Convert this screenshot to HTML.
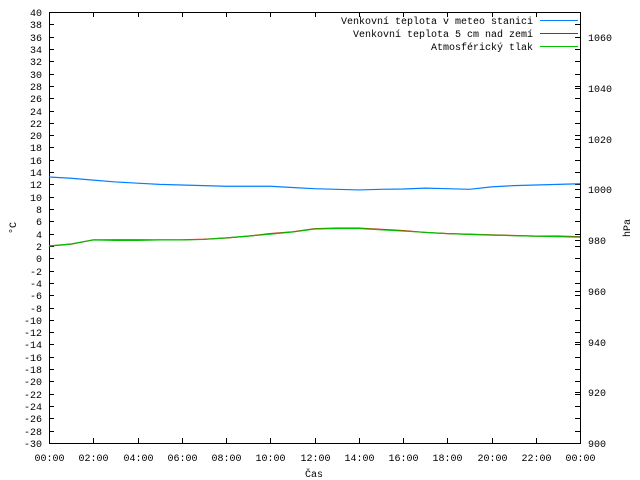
<!DOCTYPE html>
<html><head><meta charset="utf-8"><style>
html,body{margin:0;padding:0;background:#fff}
svg{display:block;font-family:"Liberation Mono","DejaVu Sans Mono",monospace;font-size:10px}
</style></head><body>
<svg id="c" width="640" height="480" viewBox="0 0 640 480"></svg>
<script>
const hours=[0,1,2,3,4,5,6,7,8,9,10,11,12,13,14,15,16,17,18,19,20,21,22,23,24];
const airTemp=[13.2,13.0,12.7,12.4,12.2,12.0,11.9,11.8,11.7,11.7,11.7,11.5,11.3,11.2,11.1,11.2,11.25,11.4,11.3,11.2,11.6,11.8,11.9,12.0,12.1];
const groundTemp=[2.0,2.3,3.0,3.0,3.0,3.0,3.0,3.1,3.3,3.6,4.0,4.3,4.8,4.9,4.9,4.7,4.5,4.2,4.0,3.9,3.8,3.7,3.6,3.6,3.5];
const pressure=[977.7,978.5,980.1,979.9,979.9,980.1,980.1,980.3,980.9,981.6,982.4,983.2,984.4,984.6,984.6,984.1,983.6,983.1,982.6,982.3,982.0,981.8,981.6,981.4,981.2];
const yTicks=[];for(let v=-30;v<=40;v+=2)yTicks.push(v);
const y2Ticks=[900,920,940,960,980,1000,1020,1040,1060];
const xTickLabels=["00:00","02:00","04:00","06:00","08:00","10:00","12:00","14:00","16:00","18:00","20:00","22:00","00:00"];
const L=49,R=580,T=12,B=443;
const xs=h=>L+(R-L)*h/24;
const ys=v=>T+(40-v)*(B-T)/70;
const y2s=p=>B-(p-900)*(B-T)/170;
const svg=document.getElementById('c');const NS="http://www.w3.org/2000/svg";
function mk(tag,a,parent){const e=document.createElementNS(NS,tag);for(const k in a)e.setAttribute(k,a[k]);(parent||svg).appendChild(e);return e;}
const axes=mk('g',{});


const frame=mk('rect',{x:L+0.5,y:T+0.5,width:R-L,height:B-T,fill:'none',stroke:'#000','stroke-width':1},axes);


yTicks.forEach(v=>{const y=Math.round(ys(v))+0.5;
 mk('line',{x1:L,x2:L+5,y1:y,y2:y,stroke:'#000'},axes);
 mk('line',{x1:R-5,x2:R,y1:y,y2:y,stroke:'#000'},axes);
 const t=mk('text',{x:L-7,y:y+3.5,'text-anchor':'end'},axes);t.textContent=v;
 
 });
y2Ticks.forEach(p=>{const y=Math.round(y2s(p))+0.5;
 mk('line',{x1:R-5,x2:R,y1:y,y2:y,stroke:'#000'},axes);
 const t=mk('text',{x:R+8,y:y+3.5},axes);t.textContent=p;
 
 });
xTickLabels.forEach((s,i)=>{const x=Math.round(xs(i*2))+0.5;
 mk('line',{x1:x,x2:x,y1:B,y2:B-5,stroke:'#000'},axes);
 mk('line',{x1:x,x2:x,y1:T,y2:T+5,stroke:'#000'},axes);
 const t=mk('text',{x:x,y:461,'text-anchor':'middle'},axes);t.textContent=s;
 
 });
const xt=mk('text',{x:314,y:477,'text-anchor':'middle'});xt.textContent='Čas';


const yt=mk('text',{x:16,y:228,'text-anchor':'middle',transform:'rotate(-90 16 228)'});yt.textContent='°C';


const y2t=mk('text',{x:630,y:228,'text-anchor':'middle',transform:'rotate(-90 630 228)'});y2t.textContent='hPa';


function series(vals,f,color,name){const pts=hours.map((h,i)=>xs(h)+','+f(vals[i])).join(' ');
 const p=mk('polyline',{points:pts,fill:'none',stroke:color,'stroke-width':1.2});
 
 }
series(airTemp,ys,'#0080ff','series-air-temperature');
series(groundTemp,ys,'#ff0000','series-ground-temperature');
series(pressure,y2s,'#00c000','series-pressure');
const leg=[["Venkovní teplota v meteo stanici","#0080ff"],["Venkovní teplota 5 cm nad zemí","#ff0000"],["Atmosférický tlak","#00c000"]];
leg.forEach((e,i)=>{const y=20.5+i*13;
 const g=mk('g',{});
 
 
 const t=mk('text',{x:533,y:y+3.5,'text-anchor':'end'},g);t.textContent=e[0];
 mk('line',{x1:540,x2:578,y1:y,y2:y,stroke:e[1],'stroke-width':1},g);});
</script>
</body></html>
